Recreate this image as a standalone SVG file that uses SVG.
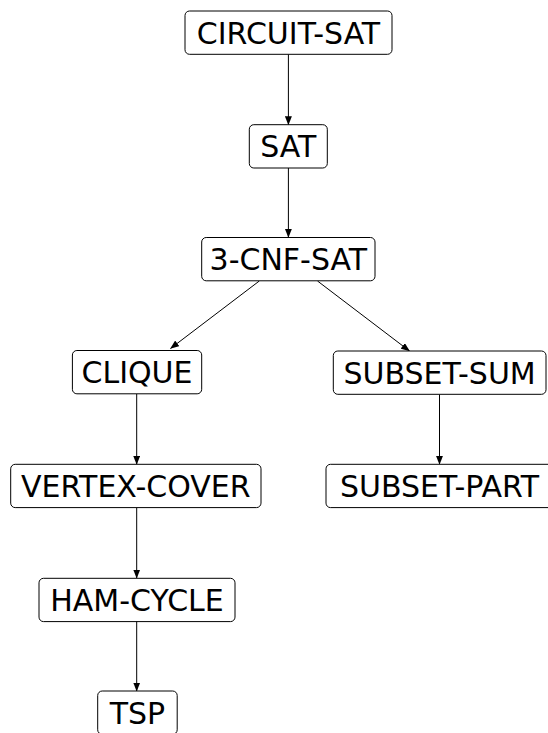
<svg xmlns="http://www.w3.org/2000/svg" width="548" height="733" viewBox="0 0 548 733">
<style>
.box{fill:#fff;stroke:#000;stroke-width:1}
.lbl{font-family:"DejaVu Sans",sans-serif;font-size:30px;fill:#000;text-anchor:middle}
.edge{stroke:#000;stroke-width:1;fill:none;marker-end:url(#ah)}
</style>
<defs>
<marker id="ah" markerUnits="userSpaceOnUse" markerWidth="9" markerHeight="7" refX="8.5" refY="3.5" orient="auto">
<path d="M0,0 L9,3.5 L0,7 z" fill="#000"/>
</marker>
</defs>
<rect width="548" height="733" fill="#fff"/>
<g id="connectors">
<line class="edge" x1="288.4" y1="54.3" x2="288.4" y2="124.7"/>
<line class="edge" x1="288.4" y1="168" x2="288.4" y2="237.3"/>
<line class="edge" x1="259.3" y1="281" x2="170.5" y2="348.5"/>
<line class="edge" x1="317.5" y1="281" x2="409.5" y2="351"/>
<line class="edge" x1="136.7" y1="394" x2="136.7" y2="464.3"/>
<line class="edge" x1="439.5" y1="394.5" x2="439.5" y2="464.3"/>
<line class="edge" x1="136.7" y1="507.7" x2="136.7" y2="578"/>
<line class="edge" x1="136.7" y1="621" x2="136.7" y2="691"/>
</g>
<g id="n-circuit-sat"><rect class="box" x="185" y="11" width="207" height="43.3" rx="4.5"/><text class="lbl" x="288.5" y="43.6">CIRCUIT-SAT</text></g>
<g id="n-sat"><rect class="box" x="249.3" y="124.7" width="78" height="43.3" rx="4.5"/><text class="lbl" x="288.3" y="157.3">SAT</text></g>
<g id="n-3cnf"><rect class="box" x="201.7" y="237.5" width="173.3" height="43.3" rx="4.5"/><text class="lbl" x="288.3" y="270.1">3-CNF-SAT</text></g>
<g id="n-clique"><rect class="box" x="72.4" y="350.5" width="129.3" height="43.3" rx="4.5"/><text class="lbl" x="137" y="383.1">CLIQUE</text></g>
<g id="n-subset-sum"><rect class="box" x="333.3" y="351" width="212.7" height="43.3" rx="4.5"/><text class="lbl" x="439.6" y="383.6">SUBSET-SUM</text></g>
<g id="n-vertex-cover"><rect class="box" x="10.7" y="464.3" width="250.3" height="43.3" rx="4.5"/><text class="lbl" x="135.8" y="496.8">VERTEX-COVER</text></g>
<g id="n-subset-part"><rect class="box" x="326" y="464.3" width="227" height="43.3" rx="4.5"/><text class="lbl" x="439.5" y="496.8">SUBSET-PART</text></g>
<g id="n-ham-cycle"><rect class="box" x="39" y="578.3" width="196" height="43.3" rx="4.5"/><text class="lbl" x="137" y="610.9">HAM-CYCLE</text></g>
<g id="n-tsp"><rect class="box" x="97.7" y="691" width="79.5" height="43.3" rx="4.5"/><text class="lbl" x="137.4" y="723.6">TSP</text></g>
</svg>
